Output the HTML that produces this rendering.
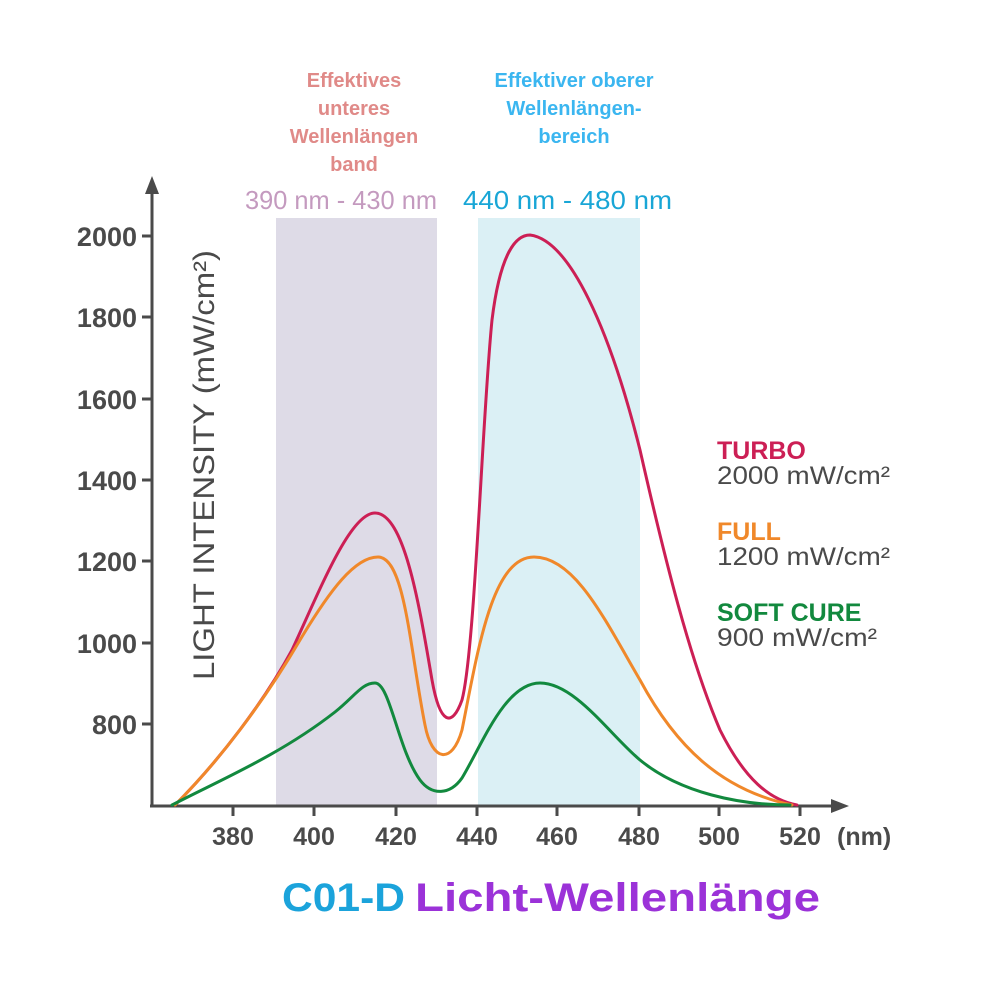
<!DOCTYPE html>
<html><head><meta charset="utf-8"><style>
html,body{margin:0;padding:0;background:#fff;}
svg{display:block;font-family:"Liberation Sans",sans-serif;}
</style></head><body>
<svg width="1000" height="1000" viewBox="0 0 1000 1000" xmlns="http://www.w3.org/2000/svg">
<rect width="1000" height="1000" fill="#fff"/>
<rect x="276" y="218" width="161" height="587" fill="#dedbe7"/>
<rect x="478" y="218" width="162" height="587" fill="#dbf0f5"/>
<g font-weight="bold" font-size="20" text-anchor="middle">
<text x="354" y="87" fill="#e08a88">Effektives</text>
<text x="354" y="115" fill="#e08a88">unteres</text>
<text x="354" y="143" fill="#e08a88">Wellenlängen</text>
<text x="354" y="171" fill="#e08a88">band</text>
<text x="574" y="87" fill="#3bb6f0">Effektiver oberer</text>
<text x="574" y="115" fill="#3bb6f0">Wellenlängen-</text>
<text x="574" y="143" fill="#3bb6f0">bereich</text>
</g>
<text x="245" y="209" font-size="26" fill="#c49abf" textLength="192" lengthAdjust="spacingAndGlyphs">390 nm - 430 nm</text>
<text x="463" y="209" font-size="26" fill="#19a6d6" textLength="209" lengthAdjust="spacingAndGlyphs">440 nm - 480 nm</text>
<g stroke="#4a4a4a" stroke-width="3" fill="none">
<line x1="152" y1="806" x2="152" y2="190"/>
<line x1="150" y1="806" x2="835" y2="806"/>
<line x1="142" y1="236" x2="152" y2="236"/><line x1="142" y1="317" x2="152" y2="317"/>
<line x1="142" y1="399" x2="152" y2="399"/><line x1="142" y1="480" x2="152" y2="480"/>
<line x1="142" y1="561" x2="152" y2="561"/><line x1="142" y1="643" x2="152" y2="643"/>
<line x1="142" y1="724" x2="152" y2="724"/>
<line x1="233" y1="806" x2="233" y2="816"/><line x1="314" y1="806" x2="314" y2="816"/>
<line x1="396" y1="806" x2="396" y2="816"/><line x1="477" y1="806" x2="477" y2="816"/>
<line x1="557" y1="806" x2="557" y2="816"/><line x1="639" y1="806" x2="639" y2="816"/>
<line x1="719" y1="806" x2="719" y2="816"/><line x1="800" y1="806" x2="800" y2="816"/>
</g>
<polygon points="152,176 145,194 159,194" fill="#4a4a4a"/>
<polygon points="849,806 831,799 831,813" fill="#4a4a4a"/>
<g font-size="27" font-weight="bold" fill="#4a4a4a" text-anchor="end">
<text x="137" y="246">2000</text><text x="137" y="327">1800</text><text x="137" y="409">1600</text>
<text x="137" y="490">1400</text><text x="137" y="571">1200</text><text x="137" y="653">1000</text>
<text x="137" y="734">800</text>
</g>
<g font-size="25" font-weight="bold" fill="#4a4a4a" text-anchor="middle">
<text x="233" y="845">380</text><text x="314" y="845">400</text><text x="396" y="845">420</text>
<text x="477" y="845">440</text><text x="557" y="845">460</text><text x="639" y="845">480</text>
<text x="719" y="845">500</text><text x="800" y="845">520</text>
</g>
<text x="837" y="845" font-size="25" font-weight="bold" fill="#4a4a4a">(nm)</text>
<text transform="translate(214,680) rotate(-90)" font-size="30" fill="#4a4a4a" textLength="430" lengthAdjust="spacingAndGlyphs">LIGHT INTENSITY (mW/cm²)</text>
<g fill="none" stroke-width="3" stroke-linecap="round">
<path stroke="#cc1f55" d="M175,805 C220,760 265,700 292,650 C320,590 350,513 375,513 C405,513 420,610 432,680 C440,725 452,728 462,700 C475,650 482,420 492,320 C500,255 515,235 530,235 C570,240 610,330 640,450 C665,560 690,660 720,730 C745,780 770,800 797,805"/>
<path stroke="#f0882a" d="M175,805 C220,760 265,700 300,640 C330,590 355,557 378,557 C405,557 410,650 425,725 C432,762 452,765 462,730 C478,650 492,557 534,557 C575,557 605,620 640,680 C675,745 720,790 792,805"/>
<path stroke="#12893e" d="M172,805 C220,780 280,755 335,712 C355,696 362,683 375,683 C390,683 398,750 420,780 C432,796 450,795 462,778 C482,745 505,683 540,683 C575,683 610,735 640,760 C680,793 740,805 790,805"/>
</g>
<g font-size="25">
<text x="717" y="459" font-weight="bold" fill="#cc1f55">TURBO</text>
<text x="717" y="484" fill="#4a4a4a" textLength="173" lengthAdjust="spacingAndGlyphs">2000 mW/cm²</text>
<text x="717" y="540" font-weight="bold" fill="#f0882a">FULL</text>
<text x="717" y="565" fill="#4a4a4a" textLength="173" lengthAdjust="spacingAndGlyphs">1200 mW/cm²</text>
<text x="717" y="621" font-weight="bold" fill="#12893e">SOFT CURE</text>
<text x="717" y="646" fill="#4a4a4a" textLength="160" lengthAdjust="spacingAndGlyphs">900 mW/cm²</text>
</g>
<text x="282" y="911" font-size="40" font-weight="bold" fill="#1ba3db" textLength="123" lengthAdjust="spacingAndGlyphs">C01-D</text>
<text x="415" y="911" font-size="40" font-weight="bold" fill="#9b32d8" textLength="405" lengthAdjust="spacingAndGlyphs">Licht-Wellenlänge</text>
</svg>
</body></html>
